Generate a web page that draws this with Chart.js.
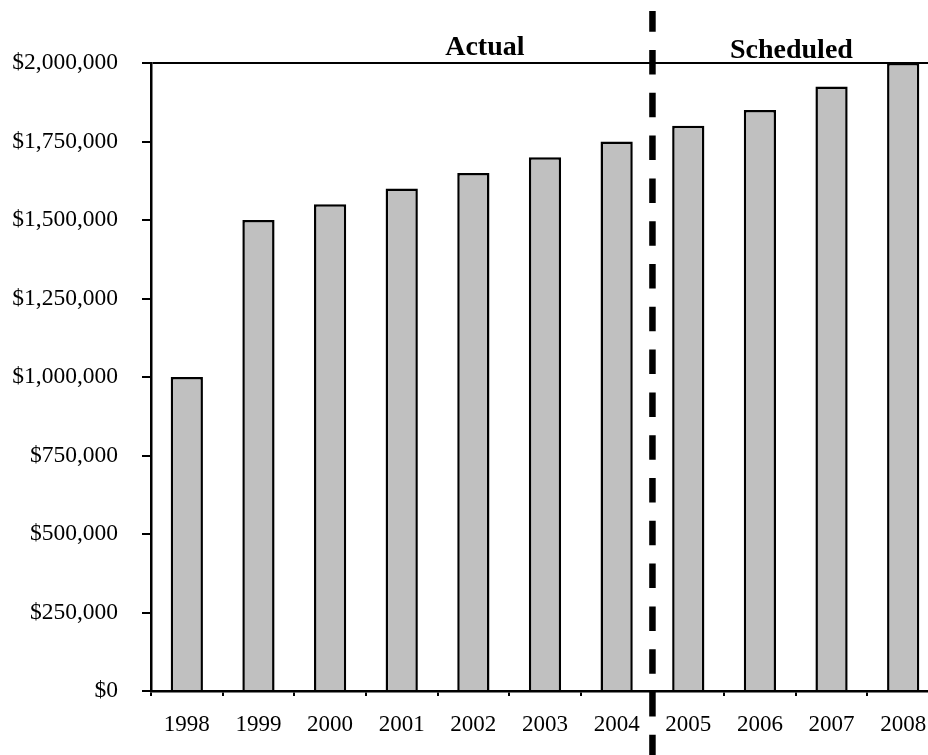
<!DOCTYPE html>
<html>
<head>
<meta charset="utf-8">
<script src="https://cdn.jsdelivr.net/npm/chart.js@4/dist/chart.umd.min.js"></script>
<style>
  html, body { margin: 0; padding: 0; background: #fff; overflow: hidden; }
  #wrap { width: 945px; height: 755px; }
</style>
</head>
<body>
<div id="wrap"><canvas id="c" width="945" height="755"></canvas></div>
<script>
// Annual amounts by year: actual through 2004, scheduled afterwards
const years = ['1998', '1999', '2000', '2001', '2002', '2003', '2004', '2005', '2006', '2007', '2008'];
const amounts = [1000000, 1500000, 1550000, 1600000, 1650000, 1700000, 1750000, 1800000, 1850000, 1925000, 2000000];
const yTicks = [0, 250000, 500000, 750000, 1000000, 1250000, 1500000, 1750000, 2000000];
const periodLabels = ['Actual', 'Scheduled'];
const lastActualIndex = 6;

const serif = '"Liberation Serif", "Times New Roman", Times, serif';

// Divider between actual and scheduled years, plus the period headings
const periodDivider = {
  id: 'periodDivider',
  afterDraw(chart) {
    const ctx = chart.ctx;
    const x = chart.scales.x;
    const step = x.getPixelForValue(1) - x.getPixelForValue(0);
    const at = i => x.getPixelForValue(0) + i * step;
    const divX = (x.getPixelForValue(lastActualIndex) + x.getPixelForValue(lastActualIndex + 1)) / 2;

    ctx.save();
    ctx.strokeStyle = '#000';
    ctx.lineWidth = 6.5;
    ctx.setLineDash([24.5, 18.3]);
    ctx.lineDashOffset = 3.8;
    ctx.beginPath();
    ctx.moveTo(divX, 11);
    ctx.lineTo(divX, chart.height);
    ctx.stroke();
    ctx.restore();

    ctx.save();
    ctx.fillStyle = '#000';
    ctx.font = 'bold 28px ' + serif;
    ctx.textAlign = 'center';
    ctx.textBaseline = 'alphabetic';
    ctx.fillText(periodLabels[0], at(4.16), 55);
    ctx.fillText(periodLabels[1], at(8.44), 58);
    ctx.restore();
  }
};

new Chart(document.getElementById('c'), {
  type: 'bar',
  data: {
    labels: years,
    datasets: [{
      data: amounts,
      backgroundColor: '#C0C0C0',
      borderColor: '#000',
      borderWidth: 2.5,
      borderSkipped: 'bottom',
      barPercentage: 0.45,
      categoryPercentage: 1.0
    }]
  },
  options: {
    responsive: false,
    animation: false,
    layout: { padding: { top: 63, right: 6, bottom: 0, left: 0 } },
    plugins: { legend: { display: false }, tooltip: { enabled: false } },
    scales: {
      x: {
        offset: true,
        grid: {
          offset: true,
          drawOnChartArea: false,
          color: '#000',
          lineWidth: 2,
          tickLength: 5
        },
        border: { color: '#000', width: 2.5 },
        ticks: {
          color: '#000',
          font: { family: serif, size: 23 },
          padding: 15,
          maxRotation: 0,
          autoSkip: false
        },
        afterFit(scale) { scale.height = 64; }
      },
      y: {
        min: 0,
        max: 2000000,
        afterBuildTicks(scale) { scale.ticks = yTicks.map(v => ({ value: v })); },
        grid: {
          color: ctx => (ctx.tick && ctx.tick.value === 2000000 ? '#000' : 'rgba(0,0,0,0)'),
          tickColor: '#000',
          lineWidth: 2,
          tickLength: 9
        },
        border: { color: '#000', width: 2.5 },
        ticks: {
          color: '#000',
          font: { family: serif, size: 23.5 },
          padding: 24,
          callback: v => '$' + Number(v).toLocaleString('en-US')
        },
        afterFit(scale) { scale.width = 151; }
      }
    }
  },
  plugins: [periodDivider]
});
</script>
</body>
</html>
